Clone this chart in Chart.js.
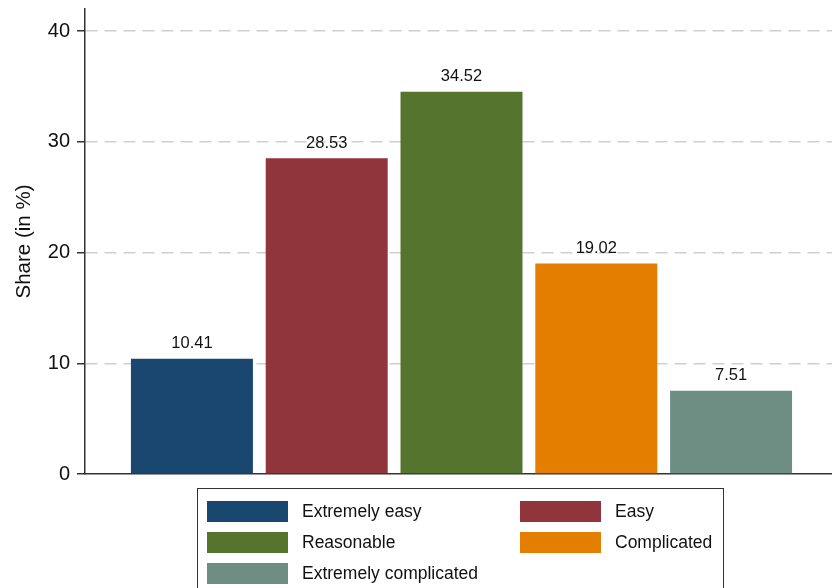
<!DOCTYPE html>
<html>
<head>
<meta charset="utf-8">
<script src="https://cdn.jsdelivr.net/npm/chart.js@4"></script>
<style>
  html, body { margin: 0; padding: 0; background: #fff; }
  #wrap { position: relative; width: 832px; height: 588px; overflow: hidden; }
  #legend {
    position: absolute; left: 197px; top: 488px; width: 527px; height: 110px;
    border: 1.5px solid #333; box-sizing: border-box;
    font-family: 'Liberation Sans', Arial, Helvetica, sans-serif; font-size: 17.5px; color: #111;
  }
  .item { position: absolute; height: 22px; display: flex; align-items: center; }
  .sw { width: 81px; height: 21px; margin-right: 14px; }
</style>
</head>
<body>
<div id="wrap">
  <canvas id="myChart" width="838" height="588"></canvas>
  <div id="legend"></div>
</div>
<script>
const categories = ['Extremely easy', 'Easy', 'Reasonable', 'Complicated', 'Extremely complicated']
const shares = [10.41, 28.53, 34.52, 19.02, 7.51]
const colors = ['#1a476f', '#90353b', '#55752f', '#e37e00', '#6e8e84']
const yTicks = [0, 10, 20, 30, 40]

const font = "'Liberation Sans', Arial, Helvetica, sans-serif"

// value labels above bars
const barLabels = {
    id: 'barLabels',
    afterDatasetsDraw(chart) {
        const ctx = chart.ctx
        ctx.save()
        ctx.font = '16.5px ' + font
        ctx.fillStyle = '#111'
        ctx.textAlign = 'center'
        ctx.textBaseline = 'middle'
        chart.data.datasets.forEach((ds, i) => {
            chart.getDatasetMeta(i).data.forEach((bar, j) => {
                ctx.fillText(ds.data[j].toFixed(2), bar.x, bar.y - 15)
            })
        })
        ctx.restore()
    }
}

const ctx = document.getElementById('myChart').getContext('2d')
new Chart(ctx, {
    type: 'bar',
    data: {
        labels: [''],
        datasets: categories.map((c, i) => ({
            label: c,
            data: [shares[i]],
            backgroundColor: colors[i],
            categoryPercentage: 0.895,
            barPercentage: 0.905
        }))
    },
    options: {
        responsive: false,
        animation: false,
        layout: { padding: { top: 9, right: 0, bottom: 114, left: 0 } },
        plugins: { legend: { display: false }, tooltip: { enabled: false } },
        scales: {
            x: {
                ticks: { display: false },
                grid: { display: false, drawTicks: false },
                border: { display: true, color: '#333', width: 1.5 }
            },
            y: {
                min: 0,
                max: 42,
                afterBuildTicks: s => { s.ticks = yTicks.map(v => ({ value: v })) },
                afterFit: s => { s.width = 85; s.paddingTop = 0; s.paddingBottom = 0 },
                ticks: { color: '#111', font: { family: font, size: 20 }, padding: 7 },
                grid: {
                    color: c => c.tick && c.tick.value === 0 ? 'rgba(0,0,0,0)' : '#cfcfcf',
                    lineWidth: 1.5,
                    tickColor: '#333',
                    tickLength: 8,
                    tickWidth: 1.5,
                    tickBorderDash: []
                },
                border: { display: true, color: '#333', width: 1.5, dash: [12, 7] },
                title: {
                    display: true, text: 'Share (in %)', color: '#111',
                    font: { family: font, size: 20.5 }, padding: { top: 12, bottom: 0 }
                }
            }
        }
    },
    plugins: [barLabels]
})

// legend in two columns
const legend = document.getElementById('legend')
categories.forEach((c, i) => {
    const el = document.createElement('div')
    el.className = 'item'
    el.style.left = (i % 2 === 0 ? 9 : 322) + 'px'
    el.style.top = (11 + Math.floor(i / 2) * 31) + 'px'
    el.innerHTML = `<span class="sw" style="background:${colors[i]}"></span><span></span>`
    el.lastChild.textContent = c
    legend.appendChild(el)
})
</script>
</body>
</html>
